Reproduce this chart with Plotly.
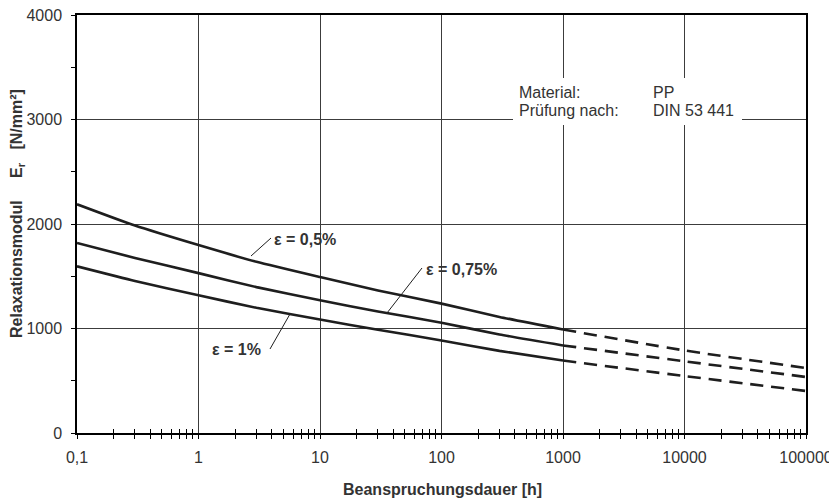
import plotly.graph_objects as go

# ---- data ----
t_meas = [0.1, 0.3, 1, 3, 10, 30, 100, 300, 1000]
e_05 = [2189, 1985, 1798, 1638, 1492, 1364, 1238, 1111, 990]
e_075 = [1818, 1675, 1530, 1396, 1270, 1163, 1055, 943, 838]
e_1 = [1595, 1455, 1318, 1198, 1086, 988, 886, 786, 693]

t_ext = [1000, 10000, 100000]
e_05_ext = [990, 790, 622]
e_075_ext = [838, 686, 536]
e_1_ext = [693, 545, 402]

x_tickvals = [0.1, 1, 10, 100, 1000, 10000, 100000]
x_ticktext = ["0,1", "1", "10", "100", "1000", "10000", "100000"]
y_tickvals = [0, 1000, 2000, 3000, 4000]

series = [("ε = 0,5%", e_05, e_05_ext), ("ε = 0,75%", e_075, e_075_ext), ("ε = 1%", e_1, e_1_ext)]

LINE = "#1e1e1e"
TXT = "#333333"
GRID = "#3c3c3c"
FONT = "Liberation Sans, Arial, sans-serif"

fig = go.Figure()
for name, vals, ext in series:
    fig.add_trace(go.Scatter(x=t_meas, y=vals, mode="lines", name=name,
                             line=dict(color=LINE, width=2.6, shape="spline", smoothing=0.5),
                             showlegend=False, hoverinfo="skip"))
    fig.add_trace(go.Scatter(x=t_ext, y=ext, mode="lines", name=name + " (extrapoliert)",
                             line=dict(color=LINE, width=2.6, dash="13px,8px", shape="spline", smoothing=0.5),
                             showlegend=False, hoverinfo="skip"))
# invisible helper trace for the overlay axes (crossing minor ticks)
fig.add_trace(go.Scatter(x=[t_meas[0]], y=[e_05[0]], mode="markers", marker=dict(opacity=0),
                         xaxis="x2", yaxis="y2", showlegend=False, hoverinfo="skip"))

minor_x = [k * 10 ** d for d in range(-1, 5) for k in range(2, 10)]

# page body adds an 8px margin, so the figure is smaller and margins shifted
fig.update_layout(
    width=829, height=490,
    margin=dict(l=69, r=31, t=7, b=65),
    paper_bgcolor="white", plot_bgcolor="white",
    font=dict(family=FONT, size=16, color=TXT),
    xaxis=dict(type="log", range=[-1, 5], tickvals=x_tickvals, ticktext=x_ticktext,
               automargin=False, ticklabeloverflow="allow",
               showgrid=True, gridcolor=GRID, gridwidth=1,
               showline=True, linecolor="black", linewidth=1.5, mirror=True,
               ticks="outside", ticklen=4, tickcolor="black", ticklabelstandoff=5,
               tickfont=dict(size=16, color=TXT),
               minor=dict(tickmode="array", tickvals=minor_x, ticks="outside", ticklen=4,
                          tickcolor="black", showgrid=False),
               zeroline=False),
    yaxis=dict(range=[0, 4000], tickvals=y_tickvals, automargin=False, ticklabeloverflow="allow",
               showgrid=True, gridcolor=GRID, gridwidth=1,
               showline=True, linecolor="black", linewidth=1.5, mirror=True,
               ticks="outside", ticklen=4, tickcolor="black", ticklabelstandoff=6,
               tickfont=dict(size=16, color=TXT),
               minor=dict(dtick=500, ticks="outside", ticklen=4, tickcolor="black", showgrid=False),
               zeroline=False),
    xaxis2=dict(type="log", range=[-1, 5], overlaying="x", anchor="y", side="bottom",
                automargin=False,
                showticklabels=False, showgrid=False, showline=False, ticks="",
                minor=dict(tickmode="array", tickvals=minor_x, ticks="inside", ticklen=4,
                           tickcolor="black", showgrid=False)),
    yaxis2=dict(range=[0, 4000], overlaying="y", anchor="x", side="left",
                automargin=False,
                showticklabels=False, showgrid=False, showline=False, ticks="",
                minor=dict(dtick=500, ticks="inside", ticklen=5, tickcolor="black", showgrid=False)),
)

def px(X):
    return (X - 77) / 729

def py(Y):
    return (433 - Y) / 418

# white box behind the material note
fig.add_shape(type="rect", xref="paper", yref="paper",
              x0=px(513), x1=px(742), y0=py(125), y1=py(78),
              fillcolor="white", line=dict(width=0), layer="above")

notes = [("Material:", "PP", 92), ("Prüfung nach:", "DIN 53 441", 111)]
for left, right, Y in notes:
    fig.add_annotation(x=px(517), y=py(Y), xref="paper", yref="paper", text=left,
                       showarrow=False, xanchor="left", yanchor="middle",
                       font=dict(size=16, color=TXT))
    fig.add_annotation(x=px(651), y=py(Y), xref="paper", yref="paper", text=right,
                       showarrow=False, xanchor="left", yanchor="middle",
                       font=dict(size=16, color=TXT))

# curve labels with leader lines
labels = [
    ("ε = 0,5%", (251, 256), (271, 238), 272, 239, "left"),
    ("ε = 0,75%", (387, 313), (422, 268), 424, 269, "left"),
    ("ε = 1%", (290, 314), (270, 349), 263, 349, "right"),
]
for txt, p0, p1, tx, ty, anc in labels:
    fig.add_shape(type="line", xref="paper", yref="paper",
                  x0=px(p0[0]), y0=py(p0[1]), x1=px(p1[0]), y1=py(p1[1]),
                  line=dict(color=LINE, width=1))
    fig.add_annotation(x=px(tx), y=py(ty), xref="paper", yref="paper", text="<b>" + txt + "</b>",
                       showarrow=False, xanchor=anc, yanchor="middle",
                       font=dict(size=16, color=TXT))

# axis titles
fig.add_annotation(x=px(442), y=py(490), xref="paper", yref="paper",
                   text="<b>Beanspruchungsdauer [h]</b>", showarrow=False,
                   xanchor="center", yanchor="middle", font=dict(size=16, color=TXT))
fig.add_annotation(x=px(17), y=py(214), xref="paper", yref="paper",
                   text="<b>Relaxationsmodul\u00a0\u00a0\u00a0\u00a0\u00a0E<sub>r</sub>\u00a0\u00a0\u00a0[N/mm²]</b>",
                   showarrow=False, textangle=-90, xanchor="center", yanchor="middle",
                   font=dict(size=16, color=TXT))

fig.write_html("out.html")
